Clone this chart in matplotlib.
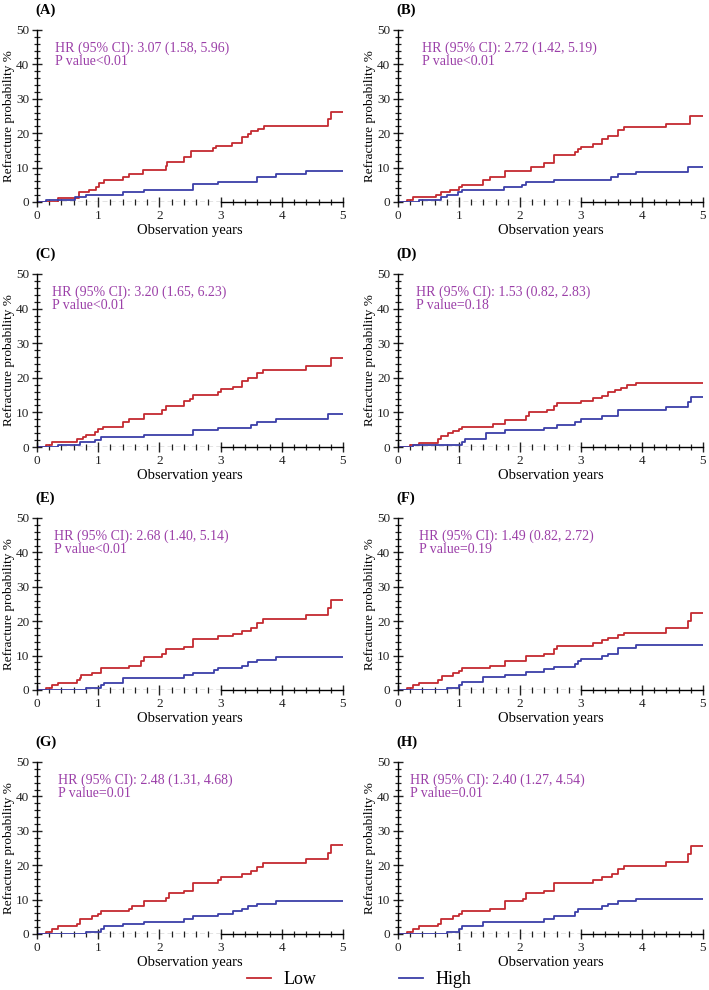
import matplotlib
matplotlib.use("Agg")
import matplotlib.pyplot as plt
from matplotlib.ticker import MultipleLocator

plt.rcParams['font.family'] = ['Liberation Serif', 'DejaVu Serif']

# step points (years, cumulative refracture %)
a_low = [(0.35, 1.3), (0.68, 2.8), (0.85, 3.6), (0.97, 4.3), (1.02, 5.5), (1.09, 6.5),
         (1.41, 7.3), (1.51, 8.0), (1.74, 9.4), (2.1, 10.5), (2.12, 11.6), (2.4, 13.2),
         (2.52, 14.7), (2.88, 15.7), (2.92, 16.4), (3.18, 17.2), (3.35, 18.8), (3.45, 19.7),
         (3.5, 20.5), (3.61, 21.2), (3.71, 22.2), (4.75, 24.0), (4.81, 26.1)]
a_high = [(0.15, 0.7), (0.62, 1.4), (0.8, 2.1), (1.4, 2.9), (1.75, 3.6), (2.55, 5.1),
          (2.95, 5.8), (3.6, 7.3), (3.9, 8.0), (4.4, 8.9)]

b_low = [(0.15, 0.7), (0.25, 1.4), (0.62, 2.1), (0.7, 2.9), (0.85, 3.6), (1.0, 4.3),
         (1.05, 5.0), (1.4, 6.5), (1.5, 7.3), (1.75, 8.9), (2.18, 10.3), (2.39, 11.3),
         (2.55, 13.6), (2.9, 14.6), (2.95, 15.4), (3.0, 16.1), (3.2, 16.9), (3.35, 18.4),
         (3.45, 19.2), (3.6, 20.9), (3.7, 21.7), (4.4, 22.8), (4.79, 25.0)]
b_high = [(0.35, 0.7), (0.7, 1.4), (0.8, 2.1), (0.98, 2.9), (1.05, 3.6), (1.74, 4.3),
          (2.04, 5.0), (2.1, 5.8), (2.55, 6.5), (3.49, 7.2), (3.6, 8.0), (3.9, 8.7),
          (4.75, 10.3)]

c_low = [(0.15, 0.7), (0.25, 1.4), (0.65, 2.2), (0.75, 2.9), (0.8, 3.6), (0.95, 4.3),
         (1.0, 5.1), (1.08, 5.8), (1.4, 7.3), (1.5, 8.0), (1.75, 9.5), (2.05, 10.6),
         (2.1, 11.8), (2.4, 13.3), (2.5, 14.0), (2.55, 15.1), (2.95, 16.0), (3.0, 16.7),
         (3.2, 17.4), (3.35, 19.0), (3.45, 19.9), (3.6, 21.4), (3.7, 22.3), (4.4, 23.5),
         (4.8, 25.8)]
c_high = [(0.35, 0.7), (0.7, 1.4), (0.95, 2.1), (1.05, 2.8), (1.75, 3.5), (2.55, 4.9),
          (2.95, 5.6), (3.5, 6.4), (3.6, 7.2), (3.9, 8.0), (4.75, 9.5)]

d_low = [(0.2, 0.7), (0.35, 1.3), (0.65, 2.3), (0.7, 3.3), (0.82, 4.0), (0.9, 4.6),
         (1.0, 5.3), (1.05, 5.9), (1.55, 6.6), (1.75, 7.9), (2.1, 8.9), (2.15, 10.0),
         (2.45, 10.8), (2.55, 11.8), (2.6, 12.7), (3.0, 13.4), (3.2, 14.1), (3.35, 14.8),
         (3.45, 15.8), (3.55, 16.4), (3.65, 17.1), (3.75, 17.8), (3.9, 18.5)]
d_high = [(0.25, 0.7), (1.05, 1.5), (1.1, 2.4), (1.45, 4.0), (1.75, 4.8), (2.4, 5.6),
          (2.6, 6.4), (2.9, 7.3), (3.0, 8.2), (3.35, 9.0), (3.6, 10.8), (4.4, 11.7),
          (4.75, 13.0), (4.8, 14.4)]

e_low = [(0.15, 0.7), (0.25, 1.4), (0.35, 2.1), (0.65, 2.8), (0.7, 3.6), (0.72, 4.3),
         (0.9, 5.0), (1.05, 6.4), (1.5, 7.1), (1.7, 8.5), (1.75, 9.5), (2.05, 10.5),
         (2.1, 11.8), (2.4, 12.5), (2.55, 14.9), (2.95, 15.7), (3.2, 16.4), (3.35, 17.2),
         (3.5, 18.0), (3.6, 19.5), (3.7, 20.5), (4.4, 21.7), (4.75, 23.9), (4.8, 26.3)]
e_high = [(0.8, 0.7), (1.05, 1.4), (1.1, 2.1), (1.4, 3.5), (2.4, 4.3), (2.55, 5.0),
          (2.9, 5.7), (2.95, 6.4), (3.35, 7.1), (3.45, 8.0), (3.6, 8.8), (3.9, 9.5)]

f_low = [(0.15, 0.7), (0.25, 1.4), (0.35, 2.1), (0.65, 2.8), (0.72, 4.1), (0.9, 4.9),
         (1.0, 5.6), (1.05, 6.3), (1.5, 6.9), (1.75, 8.3), (2.1, 9.8), (2.4, 10.5),
         (2.55, 12.0), (2.6, 12.9), (3.2, 13.6), (3.35, 14.4), (3.45, 15.2), (3.6, 15.9),
         (3.7, 16.7), (4.4, 17.9), (4.75, 20.0), (4.8, 22.4)]
f_high = [(0.8, 0.7), (1.0, 1.4), (1.05, 2.2), (1.4, 3.7), (1.75, 4.5), (2.1, 5.2),
          (2.4, 6.0), (2.55, 6.7), (2.9, 7.5), (2.95, 8.3), (3.0, 9.1), (3.35, 9.9),
          (3.45, 10.6), (3.6, 12.2), (3.9, 13.0)]

g_low = [(0.15, 0.7), (0.25, 1.5), (0.35, 2.2), (0.65, 2.9), (0.7, 4.4), (0.9, 5.1),
         (1.0, 5.9), (1.05, 6.6), (1.5, 7.3), (1.55, 8.0), (1.75, 9.5), (2.1, 10.5),
         (2.15, 11.8), (2.4, 12.6), (2.55, 14.9), (2.95, 15.8), (3.0, 16.6), (3.35, 17.4),
         (3.5, 18.2), (3.6, 19.6), (3.7, 20.5), (4.4, 21.7), (4.75, 23.5), (4.8, 25.8)]
g_high = [(0.8, 0.7), (1.05, 1.5), (1.1, 2.2), (1.4, 2.9), (1.75, 3.6), (2.4, 4.4),
          (2.55, 5.1), (2.95, 5.8), (3.2, 6.6), (3.35, 7.3), (3.45, 8.0), (3.6, 8.7),
          (3.9, 9.5)]

h_low = [(0.15, 0.7), (0.25, 1.5), (0.35, 2.2), (0.65, 2.9), (0.7, 4.4), (0.9, 5.1),
         (1.0, 5.9), (1.05, 6.6), (1.5, 7.3), (1.75, 9.6), (2.05, 10.3), (2.1, 11.8),
         (2.4, 12.6), (2.55, 14.9), (3.2, 15.7), (3.35, 16.5), (3.5, 17.4), (3.6, 18.9),
         (3.7, 19.7), (4.4, 21.0), (4.75, 23.3), (4.8, 25.6)]
h_high = [(0.8, 0.7), (1.0, 1.4), (1.05, 2.2), (1.4, 3.6), (2.4, 4.4), (2.55, 5.1),
          (2.9, 6.5), (2.95, 7.2), (3.35, 8.0), (3.45, 8.8), (3.6, 9.5), (3.9, 10.2)]

panel_names = ['(A)', '(B)', '(C)', '(D)', '(E)', '(F)', '(G)', '(H)']
low_curves = [a_low, b_low, c_low, d_low, e_low, f_low, g_low, h_low]
high_curves = [a_high, b_high, c_high, d_high, e_high, f_high, g_high, h_high]
hr_text = ['HR (95% CI): 3.07 (1.58, 5.96)', 'HR (95% CI): 2.72 (1.42, 5.19)',
           'HR (95% CI): 3.20 (1.65, 6.23)', 'HR (95% CI): 1.53 (0.82, 2.83)',
           'HR (95% CI): 2.68 (1.40, 5.14)', 'HR (95% CI): 1.49 (0.82, 2.72)',
           'HR (95% CI): 2.48 (1.31, 4.68)', 'HR (95% CI): 2.40 (1.27, 4.54)']
p_text = ['P value<0.01', 'P value<0.01', 'P value<0.01', 'P value=0.18',
          'P value<0.01', 'P value=0.19', 'P value=0.01', 'P value=0.01']

RED = '#c42a30'
BLUE = '#3c3fa8'
PURPLE = '#9b3fa8'
MAX_YEARS = 5


def steps(points):
    t = [0] + [p[0] for p in points] + [MAX_YEARS]
    v = [0] + [p[1] for p in points]
    v = v + [v[-1]]
    return t, v


fig = plt.figure(figsize=(7.09, 9.9), dpi=100)

# axes boxes in pixels: left, top, right, bottom
lefts = [37, 398]
rights = [343, 703]
tops = [30, 274, 518, 762]
bottoms = [202, 447, 690, 934]
text_x = [0.06, 0.08, 0.05, 0.06, 0.055, 0.07, 0.07, 0.04]

W, H = 709, 990
handles = None
for i in range(8):
    r, c = divmod(i, 2)
    l, rt = lefts[c], rights[c]
    tp, bt = tops[r], bottoms[r]
    ax = fig.add_axes([l / W, 1 - bt / H, (rt - l) / W, (bt - tp) / H])

    tl, vl = steps(low_curves[i])
    th, vh = steps(high_curves[i])
    ln_low, = ax.step(tl, vl, where='post', color=RED, lw=1.3, label='Low')
    ln_high, = ax.step(th, vh, where='post', color=BLUE, lw=1.3, label='High')
    if handles is None:
        handles = [ln_low, ln_high]

    # dashed stretch of the baseline
    ax.plot([0, 3.0], [0, 0], color='#222222', lw=0.9, ls=(0, (4, 2.5)), zorder=1)

    ax.set_xlim(0, MAX_YEARS)
    ax.set_ylim(0, 50)
    ax.xaxis.set_major_locator(MultipleLocator(1))
    ax.xaxis.set_minor_locator(MultipleLocator(0.2))
    ax.yaxis.set_major_locator(MultipleLocator(10))
    ax.yaxis.set_minor_locator(MultipleLocator(2))
    ax.tick_params(which='major', direction='inout', length=7, width=1.0,
                   labelsize=9.5, colors='#222222', pad=2)
    ax.tick_params(which='minor', direction='inout', length=4.5, width=0.9,
                   colors='#222222')
    for s in ['top', 'right']:
        ax.spines[s].set_visible(False)
    ax.spines['left'].set_linewidth(1.0)
    ax.spines['bottom'].set_linewidth(1.0)
    ax.spines['bottom'].set_bounds(3.0, MAX_YEARS)
    ax.patch.set_alpha(0)

    ax.set_xlabel('Observation years', fontsize=10.5, labelpad=2)
    ax.set_ylabel('Refracture probability %', fontsize=9.5, labelpad=1)

    ax.text(text_x[i], 0.935, hr_text[i] + '\n' + p_text[i], transform=ax.transAxes,
            color=PURPLE, fontsize=10, va='top', ha='left', linespacing=1.0)

    fig.text((l - 2) / W, 1 - (tp - 20) / H, panel_names[i], fontsize=10.5,
             fontweight='bold', va='center', ha='left')

fig.legend(handles, ['Low', 'High'], loc='center', bbox_to_anchor=(0.507, 1 - 980 / H),
           ncol=2, frameon=False, fontsize=13, handlelength=1.3, handletextpad=0.7,
           columnspacing=4.6)

fig.savefig('out.png', dpi=100)
